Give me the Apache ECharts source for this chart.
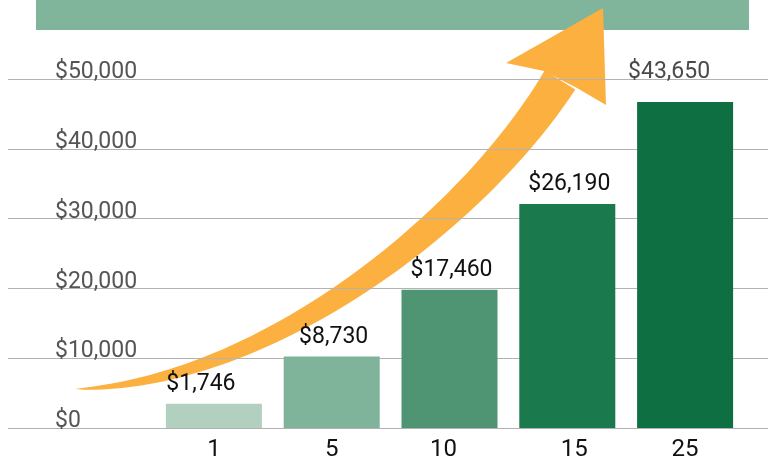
<!DOCTYPE html>
<html>
<head>
<meta charset="utf-8">
<script src="https://cdn.jsdelivr.net/npm/echarts@6/dist/echarts.min.js"></script>
<style>
  html, body { margin: 0; padding: 0; background: #fff; }
  #chart { width: 768px; height: 460px; }
</style>
</head>
<body>
<div id="chart"></div>
<script>
// data
const years = ['1', '5', '10', '15', '25']
const barValues = [3480, 10250, 19800, 32100, 46700]
const valueLabels = ['$1,746', '$8,730', '$17,460', '$26,190', '$43,650']
const yTicks = [0, 10000, 20000, 30000, 40000, 50000]

const barColors = ['#b2d0c0', '#7fb39a', '#4f9574', '#1b7a4d', '#0e7042']
const FONT = 'Roboto'

// decorative growth arrow: cubic centre line + widening body
const arrowPath = [[75, 389], [260, 385], [470, 225], [560, 80]]
const bez = (t) => {
  const u = 1 - t
  const a = u * u * u, b = 3 * u * u * t, c = 3 * u * t * t, d = t * t * t
  return [0, 1].map(k => a * arrowPath[0][k] + b * arrowPath[1][k] + c * arrowPath[2][k] + d * arrowPath[3][k])
}
const bezD = (t) => {
  const u = 1 - t
  return [0, 1].map(k =>
    3 * u * u * (arrowPath[1][k] - arrowPath[0][k]) +
    6 * u * t * (arrowPath[2][k] - arrowPath[1][k]) +
    3 * t * t * (arrowPath[3][k] - arrowPath[2][k]))
}
const upper = [], lower = []
for (let i = 0; i <= 60; i++) {
  const t = i / 60
  const [x, y] = bez(t)
  const [dx, dy] = bezD(t)
  const len = Math.hypot(dx, dy)
  const w = 18 * Math.pow(t, 0.7)
  upper.push([x + dy / len * w, y - dx / len * w])
  lower.push([x - dy / len * w, y + dx / len * w])
}
const shaft = upper.concat(lower.reverse())
const head = [[544, 71], [506, 63], [603, 8], [606, 105], [577, 88]]

const chart = echarts.init(document.getElementById('chart'))

const yRange = { min: 0, max: 50000, interval: 10000 }

// small per-label nudges seen in the original
const xLabelPad = { '10': [0, 12, 0, 0], '15': [0, 0, 0, 14] }

chart.setOption({
  animation: false,
  graphic: [
    { type: 'rect', z: -2, shape: { x: 36, y: 0, width: 713, height: 30 }, style: { fill: '#80b49b' } },
    { type: 'polygon', z: -1, shape: { points: shaft }, style: { fill: '#fbb040' } },
    { type: 'polygon', z: -1, shape: { points: head }, style: { fill: '#fbb040' } }
  ],
  grid: [
    { left: 8, right: 0, top: 79, bottom: 32, containLabel: false, outerBoundsMode: 'none' },
    { left: 155, right: 24, top: 79, bottom: 32, containLabel: false, outerBoundsMode: 'none' }
  ],
  xAxis: [
    { gridIndex: 0, type: 'value', show: false, min: 0, max: 1 },
    {
      gridIndex: 1,
      type: 'category',
      data: years.map(y => xLabelPad[y] ? { value: y, textStyle: { padding: xLabelPad[y] } } : y),
      axisLine: { show: false },
      axisTick: { show: false },
      axisLabel: { color: '#111', fontFamily: FONT, fontSize: 24, margin: 10 }
    }
  ],
  yAxis: [
    {
      gridIndex: 0,
      type: 'value',
      ...yRange,
      axisLine: { show: false },
      axisTick: { show: false },
      splitLine: { lineStyle: { color: '#b3b3b3', width: 1 } },
      axisLabel: {
        inside: true,
        margin: 47,
        color: '#555',
        fontFamily: FONT,
        fontSize: 23,
        verticalAlign: 'bottom',
        lineHeight: 13,
        formatter: (v) => yTicks.includes(v) ? '$' + v.toLocaleString('en-US') : ''
      }
    },
    { gridIndex: 1, type: 'value', ...yRange, show: false }
  ],
  series: [
    {
      type: 'bar',
      xAxisIndex: 1,
      yAxisIndex: 1,
      barWidth: 96,
      data: barValues.map((v, i) => ({
        value: v,
        itemStyle: { color: barColors[i] },
        label: i === 0 ? { offset: [-13, 0] }
          : i === barValues.length - 1 ? { offset: [-16, -10], color: '#4a4a4a' }
          : { offset: [2, 0] }
      })),
      label: {
        show: true,
        position: 'top',
        distance: 8,
        color: '#111',
        fontFamily: FONT,
        fontSize: 23,
        formatter: (p) => valueLabels[p.dataIndex]
      }
    }
  ]
})
</script>
</body>
</html>
